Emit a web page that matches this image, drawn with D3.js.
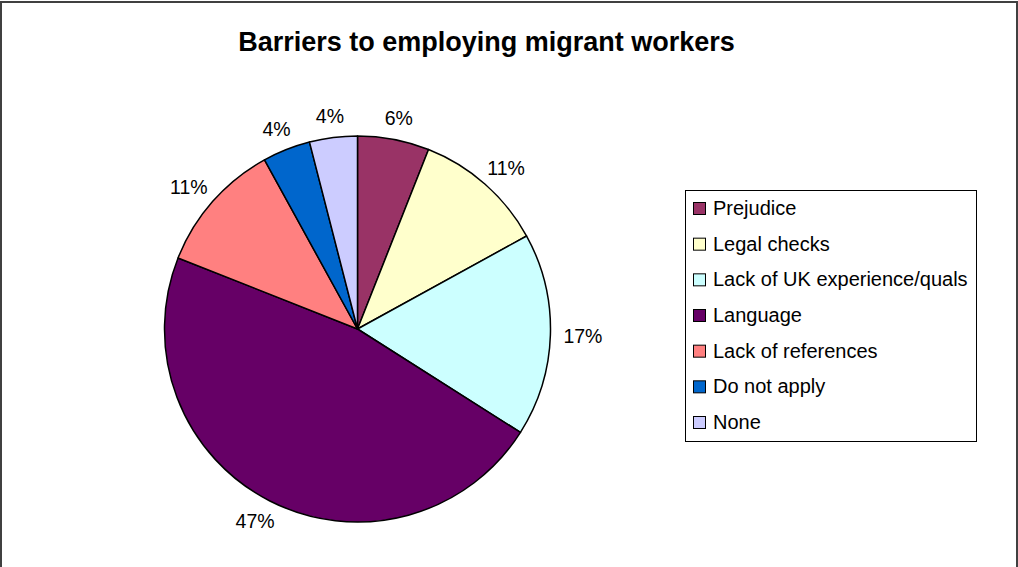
<!DOCTYPE html>
<html>
<head>
<meta charset="utf-8">
<script src="https://cdn.jsdelivr.net/npm/d3@7"></script>
<style>
  html, body { margin: 0; padding: 0; background: #fff; }
  svg { display: block; font-family: Arial, "Liberation Sans", sans-serif; }
</style>
</head>
<body>
<svg id="chart" width="1018" height="567"></svg>
<script>
// Survey responses: barriers to employing migrant workers (percent)
const categories = [
  "Prejudice",
  "Legal checks",
  "Lack of UK experience/quals",
  "Language",
  "Lack of references",
  "Do not apply",
  "None"
];
const values = [6, 11, 17, 47, 11, 4, 4];
const colors = ["#993366", "#FFFFCC", "#CCFFFF", "#660066", "#FF8080", "#0066CC", "#CCCCFF"];
const title = "Barriers to employing migrant workers";

const W = 1018, H = 567;
const svg = d3.select("#chart");

// chart frame
svg.append("rect")
  .attr("x", 1).attr("y", 2)
  .attr("width", W - 2).attr("height", H + 10)
  .attr("fill", "#fff")
  .attr("stroke", "#404040")
  .attr("stroke-width", 2);

// title
svg.append("text")
  .attr("x", 486.5).attr("y", 51)
  .attr("text-anchor", "middle")
  .attr("font-size", 27)
  .attr("font-weight", "bold")
  .attr("fill", "#000")
  .text(title);

// pie
const cx = 357.5, cy = 329, r = 193;
const data = categories.map((c, i) => ({ name: c, value: values[i], color: colors[i] }));
const pie = d3.pie().value(d => d.value).sort(null);
const arc = d3.arc().innerRadius(0).outerRadius(r);
const arcs = pie(data);

const g = svg.append("g").attr("transform", `translate(${cx},${cy})`);
g.selectAll("path.slice")
  .data(arcs)
  .join("path")
  .attr("class", "slice")
  .attr("d", arc)
  .attr("fill", d => d.data.color)
  .attr("stroke", "#000")
  .attr("stroke-width", 1.5)
  .attr("stroke-linejoin", "round");

// percentage labels outside each slice
const fmt = v => `${v}%`;
const labelSize = 19.5, gap = 13, halfH = 9;
g.selectAll("text.pct")
  .data(arcs)
  .join("text")
  .attr("class", "pct")
  .attr("font-size", labelSize)
  .attr("fill", "#000")
  .attr("text-anchor", "middle")
  .attr("dominant-baseline", "central")
  .text(d => fmt(d.data.value))
  .each(function (d) {
    const a = (d.startAngle + d.endAngle) / 2;
    const s = Math.sin(a), c = Math.cos(a);
    const halfW = this.getComputedTextLength() / 2;
    const x = (r + gap) * s + halfW * s;
    const y = -(r + gap) * c - halfH * c;
    d3.select(this).attr("x", x).attr("y", y);
  });

// legend
const lg = svg.append("g");
lg.append("rect")
  .attr("x", 685.5).attr("y", 190.5)
  .attr("width", 291).attr("height", 251)
  .attr("fill", "#fff")
  .attr("stroke", "#000")
  .attr("stroke-width", 1);

const rowY = d3.scalePoint().domain(categories).range([215, 429]);
const rows = lg.selectAll("g.row")
  .data(data)
  .join("g")
  .attr("class", "row")
  .attr("transform", d => `translate(0,${rowY(d.name)})`);
rows.append("rect")
  .attr("x", 693.5).attr("y", -12.5)
  .attr("width", 12).attr("height", 12)
  .attr("fill", d => d.color)
  .attr("stroke", "#000")
  .attr("stroke-width", 1);
rows.append("text")
  .attr("x", 713).attr("y", 0)
  .attr("font-size", 20)
  .attr("fill", "#000")
  .text(d => d.name);
</script>
</body>
</html>
